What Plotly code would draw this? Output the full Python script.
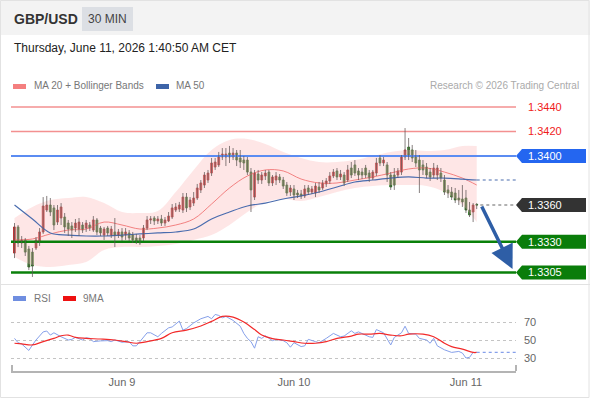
import pandas as pd
import plotly.graph_objects as go

# ---------------- data ----------------
opens = [
1.33208,1.33421,1.33290,1.33315,1.33241,1.33216,1.33249,1.33298,1.33380,1.33559,
1.33600,1.33576,1.33461,1.33494,1.33502,1.33453,1.33429,1.33412,1.33404,1.33437,
1.33412,1.33437,1.33396,1.33478,1.33412,1.33355,1.33412,1.33355,1.33380,1.33355,
1.33380,1.33355,1.33372,1.33355,1.33331,1.33331,1.33331,1.33412,1.33478,1.33494,
1.33470,1.33486,1.33453,1.33470,1.33502,1.33559,1.33567,1.33559,1.33665,1.33584,
1.33616,1.33657,1.33723,1.33763,1.33804,1.33861,1.33910,1.33927,1.33992,1.33992,
1.34024,1.33992,1.34024,1.33984,1.33967,1.33967,1.33869,1.33665,1.33853,1.33804,
1.33837,1.33869,1.33780,1.33804,1.33829,1.33804,1.33763,1.33706,1.33731,1.33698,
1.33690,1.33674,1.33739,1.33706,1.33698,1.33747,1.33739,1.33772,1.33796,1.33837,
1.33878,1.33829,1.33845,1.33804,1.33902,1.33927,1.33878,1.33869,1.33902,1.33861,
1.33820,1.33861,1.33984,1.33943,1.33927,1.33845,1.33845,1.33845,1.33869,1.33992,
1.34073,1.34049,1.33992,1.33967,1.33927,1.33910,1.33869,1.33845,1.33845,1.33861,
1.33804,1.33723,1.33706,1.33698,1.33657,1.33649,1.33657,1.33559,1.33543,1.33605]
closes = [
1.33421,1.33290,1.33315,1.33216,1.33094,1.33102,1.33315,1.33380,1.33592,1.33600,
1.33543,1.33437,1.33559,1.33584,1.33421,1.33404,1.33396,1.33453,1.33461,1.33396,
1.33453,1.33412,1.33478,1.33380,1.33372,1.33404,1.33372,1.33404,1.33355,1.33380,
1.33339,1.33380,1.33331,1.33315,1.33306,1.33290,1.33412,1.33478,1.33486,1.33470,
1.33486,1.33453,1.33478,1.33510,1.33576,1.33584,1.33600,1.33665,1.33576,1.33641,
1.33657,1.33739,1.33780,1.33845,1.33861,1.33943,1.33951,1.33992,1.34016,1.34016,
1.33992,1.34024,1.33967,1.33951,1.33943,1.33869,1.33723,1.33861,1.33804,1.33845,
1.33861,1.33780,1.33829,1.33837,1.33804,1.33755,1.33698,1.33739,1.33682,1.33682,
1.33674,1.33731,1.33706,1.33731,1.33755,1.33723,1.33780,1.33796,1.33837,1.33869,
1.33829,1.33853,1.33780,1.33886,1.33845,1.33861,1.33845,1.33845,1.33845,1.33820,
1.33869,1.33943,1.33943,1.33967,1.33845,1.33747,1.33763,1.33878,1.33992,1.34049,
1.34008,1.33984,1.33943,1.33886,1.33886,1.33845,1.33829,1.33902,1.33902,1.33820,
1.33706,1.33698,1.33665,1.33641,1.33641,1.33625,1.33559,1.33519,1.33600,1.33600]
highs = [
1.33453,1.33437,1.33347,1.33331,1.33266,1.33249,1.33339,1.33412,1.33665,1.33674,
1.33657,1.33600,1.33600,1.33616,1.33535,1.33478,1.33461,1.33486,1.33494,1.33461,
1.33478,1.33461,1.33510,1.33494,1.33429,1.33421,1.33429,1.33429,1.33494,1.33404,
1.33412,1.33412,1.33396,1.33380,1.33364,1.33355,1.33437,1.33510,1.33510,1.33510,
1.33510,1.33519,1.33502,1.33543,1.33608,1.33616,1.33625,1.33698,1.33698,1.33665,
1.33706,1.33772,1.33804,1.33869,1.33886,1.33984,1.33984,1.34033,1.34065,1.34065,
1.34082,1.34065,1.34049,1.34049,1.34000,1.33992,1.33902,1.33886,1.33886,1.33869,
1.33886,1.33886,1.33845,1.33869,1.33853,1.33829,1.33788,1.33763,1.33763,1.33723,
1.33723,1.33763,1.33763,1.33755,1.33780,1.33788,1.33804,1.33820,1.33869,1.33894,
1.33902,1.33886,1.33869,1.33927,1.33951,1.33967,1.33902,1.33902,1.33927,1.33886,
1.33886,1.33984,1.34008,1.33992,1.33951,1.33869,1.33902,1.33902,1.34008,1.34228,
1.34147,1.34090,1.34049,1.34008,1.33967,1.33943,1.33902,1.33943,1.33927,1.33902,
1.33845,1.33763,1.33747,1.33739,1.33723,1.33763,1.33723,1.33625,1.33616,1.33616]
lows = [
1.33167,1.33257,1.33249,1.33184,1.33069,1.33013,1.33233,1.33266,1.33364,1.33543,
1.33510,1.33396,1.33437,1.33437,1.33372,1.33347,1.33331,1.33380,1.33347,1.33372,
1.33380,1.33388,1.33380,1.33355,1.33347,1.33315,1.33347,1.33331,1.33257,1.33331,
1.33306,1.33315,1.33306,1.33290,1.33282,1.33274,1.33306,1.33396,1.33445,1.33437,
1.33445,1.33429,1.33429,1.33461,1.33486,1.33543,1.33543,1.33535,1.33543,1.33559,
1.33592,1.33641,1.33698,1.33739,1.33780,1.33837,1.33886,1.33910,1.33967,1.33918,
1.33943,1.33967,1.33918,1.33902,1.33886,1.33845,1.33543,1.33641,1.33772,1.33772,
1.33804,1.33755,1.33755,1.33763,1.33780,1.33731,1.33674,1.33674,1.33641,1.33657,
1.33649,1.33657,1.33682,1.33690,1.33665,1.33698,1.33723,1.33747,1.33772,1.33820,
1.33804,1.33804,1.33755,1.33788,1.33820,1.33837,1.33804,1.33812,1.33820,1.33788,
1.33804,1.33837,1.33918,1.33918,1.33788,1.33723,1.33723,1.33820,1.33845,1.33967,
1.33967,1.33951,1.33910,1.33698,1.33845,1.33820,1.33796,1.33820,1.33804,1.33788,
1.33682,1.33657,1.33641,1.33616,1.33600,1.33584,1.33535,1.33502,1.33461,1.33567]

# indicator samples (candle index -> value)
ma_idx = [0,5,10,15,20,25,30,35,40,45,50,55,60,65,70,75,80,85,90,95,100,105,110,115,120,125,129]
bb_upper = [1.33494,1.33584,1.33641,1.33657,1.33665,1.33616,1.33543,1.33535,1.33551,1.33706,
            1.33886,1.34049,1.34131,1.34139,1.34098,1.34033,1.33984,1.33951,1.33951,1.33967,
            1.34000,1.34033,1.34049,1.34041,1.34049,1.34082,1.34082]
bb_lower = [1.33176,1.33110,1.33094,1.33110,1.33135,1.33233,1.33257,1.33257,1.33266,1.33282,
            1.33315,1.33355,1.33437,1.33543,1.33625,1.33649,1.33633,1.33665,1.33706,1.33739,
            1.33755,1.33763,1.33763,1.33755,1.33706,1.33600,1.33461]
ma20 = [1.33315,1.33323,1.33364,1.33396,1.33404,1.33461,1.33437,1.33404,1.33412,1.33437,
        1.33486,1.33608,1.33739,1.33837,1.33886,1.33878,1.33812,1.33780,1.33780,1.33804,
        1.33829,1.33861,1.33894,1.33902,1.33869,1.33820,1.33763]
ma50 = [1.33600,1.33486,1.33372,1.33355,1.33347,1.33347,1.33355,1.33364,1.33372,1.33380,
        1.33404,1.33486,1.33543,1.33592,1.33616,1.33649,1.33674,1.33706,1.33747,1.33788,
        1.33804,1.33820,1.33829,1.33820,1.33820,1.33812,1.33804]

rsi_idx = [0,1,2,4,5,6,8,9,10,11,13,15,16,17,19,20,21,22,24,26,27,28,30,32,33,34,35,37,38,40,
           41,43,44,46,47,48,50,52,54,55,56,57,58,59,61,62,63,64,65,66,67,68,69,70,72,73,75,76,77,78,
           80,81,82,84,85,87,88,89,91,92,94,95,96,98,99,100,101,103,104,105,106,108,109,110,112,113,
           115,116,117,118,120,121,122,124,125,126,127,128,129]
rsi_val = [51.8,47,45.6,38.4,44.5,50,59,60,55.5,58,53.6,50,50.7,52.9,50,52.5,51.8,48.2,49,49.3,
           48.2,50,47.5,48.2,43.5,43.5,48.2,58,58,53.6,57.3,63.5,64.5,71,61,62.7,69,73.6,76.2,73.6,
           78.4,77.3,74.7,76.2,71.8,68.2,65.3,57.3,51.8,48.2,40.9,53.6,51.8,54.7,49.3,50.7,49.3,47,42,47,
           42.7,43.5,50.7,48.2,47,51.8,54.4,57.3,53.6,54.4,60.2,57.3,59,55.5,53.6,52.9,61.6,58,50.7,44.5,
           52.9,58,65.3,57.3,56.5,51.8,50,46.4,51.8,43.5,39.1,37.3,36.2,37.3,35.5,30,30.7,36.2,36.2]
ma9_idx = [0,2,5,8,11,13,15,17,20,24,28,31,34,37,41,44,48,52,55,58,61,64,67,69,72,75,78,81,84,87,
           90,94,96,99,102,105,108,110,114,117,120,122,125,128,129]
ma9_val = [46.4,45.6,44.5,48.2,51.8,54.7,55.5,52.9,51.8,51.1,50,48.2,46.4,48.2,51.8,58,61,65.6,70.7,76.2,
           75.5,70,61.6,55.5,51.5,50,48.2,46.4,46.4,48.2,51.8,54.4,56.5,56.5,57.3,55.5,54.7,56.5,56.5,53.6,
           46.4,42.7,39.8,36.2,36.2]

resistances = [1.3440, 1.3420]
pivot = 1.3400
last_price = 1.3360
supports = [1.3330, 1.3305]
day_ticks = ["2026-06-09", "2026-06-10", "2026-06-11"]
day_labels = ["Jun 9", "Jun 10", "Jun 11"]

# ---------------- helpers ----------------
W, H = 590, 400
def px(x):
    return x / W
def py(y):
    return 1 - y / H

times = pd.date_range("2026-06-08 09:00", periods=len(closes), freq="30min")
x_start = pd.Timestamp("2026-06-08 08:30:36")
x_end = pd.Timestamp("2026-06-11 06:59:00")
ma_t = times[ma_idx]
FONT = "Liberation Sans, Arial, sans-serif"

fig = go.Figure()

# Bollinger band
fig.add_trace(go.Scatter(x=ma_t, y=bb_upper, mode="lines", line=dict(width=0, shape="spline"),
                         hoverinfo="skip", showlegend=False))
fig.add_trace(go.Scatter(x=ma_t, y=bb_lower, mode="lines", line=dict(width=0, shape="spline"),
                         fill="tonexty", fillcolor="rgba(252,195,195,0.42)", hoverinfo="skip", showlegend=False))

# horizontal levels
for lv in resistances:
    fig.add_trace(go.Scatter(x=[x_start, x_end], y=[lv, lv], mode="lines",
                             line=dict(color="#f39090", width=1.5), hoverinfo="skip", showlegend=False))
fig.add_trace(go.Scatter(x=[x_start, x_end], y=[pivot, pivot], mode="lines",
                         line=dict(color="#5b8cf2", width=2), hoverinfo="skip", showlegend=False))
for lv in supports:
    fig.add_trace(go.Scatter(x=[x_start, x_end], y=[lv, lv], mode="lines",
                             line=dict(color="#0a800a", width=2.5), hoverinfo="skip", showlegend=False))

# moving averages
fig.add_trace(go.Scatter(x=ma_t, y=ma20, mode="lines", line=dict(color="rgba(240,110,110,0.85)", width=1, shape="spline"),
                         hoverinfo="skip", showlegend=False))
fig.add_trace(go.Scatter(x=ma_t, y=ma50, mode="lines", line=dict(color="#4a6cae", width=1.2, shape="spline"),
                         hoverinfo="skip", showlegend=False))
fig.add_trace(go.Scatter(x=[times[-1], x_end], y=[ma50[-1], ma50[-1]], mode="lines",
                         line=dict(color="#4a6cae", width=1.2, dash="dot"), hoverinfo="skip", showlegend=False))
fig.add_trace(go.Scatter(x=[times[-1] + pd.Timedelta("30min"), x_end], y=[closes[-1], closes[-1]], mode="lines",
                         line=dict(color="#666", width=1.2, dash="dot"), hoverinfo="skip", showlegend=False))

# wicks
wx, wy = [], []
for t, lo, hi in zip(times, lows, highs):
    wx += [t, t, None]
    wy += [lo, hi, None]
fig.add_trace(go.Scatter(x=wx, y=wy, mode="lines", line=dict(color="rgba(95,85,85,0.75)", width=1),
                         hoverinfo="skip", showlegend=False))

# bodies
body_hi = [max(o, c) for o, c in zip(opens, closes)]
body_lo = [min(o, c) for o, c in zip(opens, closes)]
fig.add_trace(go.Candlestick(x=times, open=opens, high=body_hi, low=body_lo, close=closes,
                             increasing=dict(line=dict(color="#a81414", width=0.8), fillcolor="#e61e1e"),
                             decreasing=dict(line=dict(color="#1e6414", width=0.8), fillcolor="#3a8c28"),
                             whiskerwidth=0, hoverinfo="skip", showlegend=False))

# RSI panel (own x axis)
fig.add_trace(go.Scatter(x=times[rsi_idx], y=rsi_val, mode="lines", line=dict(color="#86a0ea", width=1),
                         xaxis="x2", yaxis="y2", hoverinfo="skip", showlegend=False))
fig.add_trace(go.Scatter(x=times[ma9_idx], y=ma9_val, mode="lines", line=dict(color="#f22a2a", width=1.2, shape="spline"),
                         xaxis="x2", yaxis="y2", hoverinfo="skip", showlegend=False))
fig.add_trace(go.Scatter(x=[times[-1], x_end], y=[rsi_val[-1], rsi_val[-1]], mode="lines",
                         line=dict(color="#86a0ea", width=1.2, dash="dot"),
                         xaxis="x2", yaxis="y2", hoverinfo="skip", showlegend=False))

# ---------------- layout ----------------
y_top = 1.34 + 61 * 0.0000816
y_bot = 1.34 - 127 * 0.0000816
fig.update_layout(
    width=W, height=H, margin=dict(l=0, r=0, t=0, b=0),
    paper_bgcolor="white", plot_bgcolor="rgba(0,0,0,0)",
    font=dict(family=FONT, color="#555"),
    showlegend=False, boxgap=0.25, hovermode=False, dragmode=False,
    xaxis=dict(domain=[px(11), px(516)], range=[x_start, x_end], type="date", anchor="y",
               visible=False, showgrid=False, zeroline=False, showline=False,
               rangeslider=dict(visible=False), fixedrange=True),
    yaxis=dict(domain=[py(283), py(95)], range=[y_bot, y_top], visible=False, anchor="x",
               showgrid=False, zeroline=False, fixedrange=True),
    xaxis2=dict(domain=[px(11), px(516)], range=[x_start, x_end], type="date", anchor="y2",
                showline=True, linecolor="#b4b4b4", linewidth=2, showgrid=False, zeroline=False,
                tickvals=day_ticks, ticktext=day_labels, ticks="", tickfont=dict(size=11, color="#666"),
                fixedrange=True),
    yaxis2=dict(domain=[py(371), py(305)], range=[50 - 31 / 0.9, 50 + 35 / 0.9], anchor="x2", side="right",
                tickvals=[30, 50, 70], showgrid=True, gridcolor="#c4c4c4", griddash="dot", gridwidth=1,
                zeroline=False, showline=False, ticks="", ticklabelstandoff=7,
                tickfont=dict(size=11, color="#666"), fixedrange=True),
)

shapes = [
    dict(type="rect", xref="paper", yref="paper", x0=0, x1=1, y0=py(35), y1=1,
         fillcolor="#f3f3f3", line=dict(width=0), layer="below"),
    dict(type="rect", xref="paper", yref="paper", x0=px(82), x1=px(133), y0=py(31), y1=py(7),
         fillcolor="#dcdfe4", line=dict(width=0), layer="below"),
    dict(type="line", xref="paper", yref="paper", x0=0, x1=1, y0=py(284.5), y1=py(284.5),
         line=dict(color="#e2e2e2", width=1)),
    dict(type="rect", xref="paper", yref="paper", x0=px(0.5), x1=px(589), y0=py(397.5), y1=py(0.5),
         line=dict(color="#e2e2e2", width=1)),
    # legend swatches
    dict(type="rect", xref="paper", yref="paper", x0=px(13), x1=px(26), y0=py(89), y1=py(84),
         fillcolor="#f47f7f", line=dict(width=0)),
    dict(type="rect", xref="paper", yref="paper", x0=px(156), x1=px(169), y0=py(89), y1=py(84),
         fillcolor="#3d64a8", line=dict(width=0)),
    dict(type="rect", xref="paper", yref="paper", x0=px(13), x1=px(26), y0=py(301), y1=py(296),
         fillcolor="#6f8ee0", line=dict(width=0)),
    dict(type="rect", xref="paper", yref="paper", x0=px(63), x1=px(76), y0=py(301), y1=py(296),
         fillcolor="#ee1111", line=dict(width=0)),
    # axis end ticks
    dict(type="line", xref="paper", yref="paper", x0=px(12), x1=px(12), y0=py(371), y1=py(365),
         line=dict(color="#b4b4b4", width=2)),
    dict(type="line", xref="paper", yref="paper", x0=px(516), x1=px(516), y0=py(371), y1=py(365),
         line=dict(color="#b4b4b4", width=2)),
]

annotations = [
    dict(text="<b>GBP/USD</b>", x=px(12), y=py(19), xref="paper", yref="paper", xanchor="left", yanchor="middle",
         showarrow=False, font=dict(size=14, color="#333")),
    dict(text="30 MIN", x=px(107.5), y=py(19), xref="paper", yref="paper", xanchor="center", yanchor="middle",
         showarrow=False, font=dict(size=12, color="#444")),
    dict(text="Thursday, June 11, 2026 1:40:50 AM CET", x=px(12), y=py(48), xref="paper", yref="paper",
         xanchor="left", yanchor="middle", showarrow=False, font=dict(size=12, color="#222")),
    dict(text="MA 20 + Bollinger Bands", x=px(32), y=py(86), xref="paper", yref="paper", xanchor="left",
         yanchor="middle", showarrow=False, font=dict(size=10, color="#777")),
    dict(text="MA 50", x=px(174), y=py(86), xref="paper", yref="paper", xanchor="left",
         yanchor="middle", showarrow=False, font=dict(size=10, color="#777")),
    dict(text="Research © 2026 Trading Central", x=px(581), y=py(86), xref="paper", yref="paper", xanchor="right",
         yanchor="middle", showarrow=False, font=dict(size=10, color="#aaa")),
    dict(text="RSI", x=px(32), y=py(298.5), xref="paper", yref="paper", xanchor="left",
         yanchor="middle", showarrow=False, font=dict(size=10, color="#777")),
    dict(text="9MA", x=px(81), y=py(298.5), xref="paper", yref="paper", xanchor="left",
         yanchor="middle", showarrow=False, font=dict(size=10, color="#777")),
]

hpx = 7 * 0.0000816
def tag(level, color):
    shapes.append(dict(type="path", xref="paper", yref="y",
                       path=f"M {px(516)},{level} L {px(522)},{level + hpx} L {px(586)},{level + hpx} "
                            f"L {px(586)},{level - hpx} L {px(522)},{level - hpx} Z",
                       fillcolor=color, line=dict(width=0)))
    annotations.append(dict(text=f"{level:.4f}", x=px(526), y=level, xref="paper", yref="y",
                            xanchor="left", yanchor="middle", showarrow=False,
                            font=dict(size=11, color="white")))

for lv in resistances:
    annotations.append(dict(text=f"{lv:.4f}", x=px(526), y=lv, xref="paper", yref="y",
                            xanchor="left", yanchor="middle", showarrow=False,
                            font=dict(size=11, color="#f01c1c")))
tag(pivot, "#2466f0")
tag(last_price, "#333333")
for lv in supports:
    tag(lv, "#0a7d0a")

# forecast arrow
annotations.append(dict(x=pd.Timestamp("2026-06-11 06:30"), y=1.33078, xref="x", yref="y",
                        ax=pd.Timestamp("2026-06-11 02:06"), ay=last_price, axref="x", ayref="y",
                        showarrow=True, arrowhead=2, arrowsize=1.35, arrowwidth=3.5, arrowcolor="#2e5ea6",
                        text="", standoff=0))

fig.update_layout(shapes=shapes, annotations=annotations)
fig.write_html("out.html", config={"displayModeBar": False, "staticPlot": True},
               post_script="document.body.style.margin='0';document.body.style.overflow='hidden';")
